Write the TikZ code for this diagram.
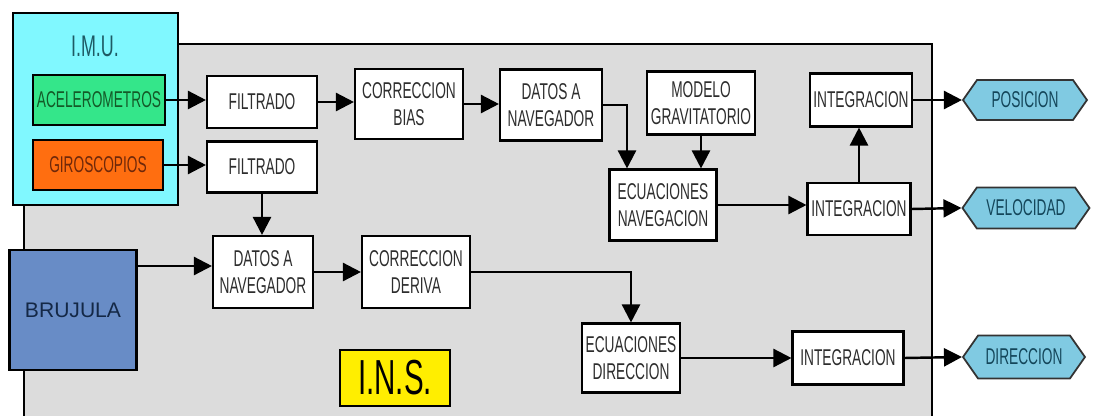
\documentclass[tikz,border=0pt]{standalone}
\usepackage{fontspec}
\usetikzlibrary{arrows.meta,positioning,calc,shapes.symbols}
\newfontfamily\agency[FakeStretch=0.6]{Liberation Sans}
\newfontfamily\widesans{Liberation Sans}
\definecolor{insgray}{RGB}{220,220,220}
\definecolor{imucyan}{RGB}{128,248,255}
\definecolor{acelgreen}{RGB}{52,230,138}
\definecolor{giroorange}{RGB}{255,110,16}
\definecolor{brublue}{RGB}{104,140,198}
\definecolor{insyellow}{RGB}{255,238,0}
\definecolor{outblue}{RGB}{128,202,226}
\definecolor{txtgray}{RGB}{45,45,45}

\begin{document}
\begin{tikzpicture}[x=0.02cm, y=-0.02cm,
  arr/.style={-{Triangle[length=0.36cm,width=0.36cm]}, line width=1.4pt},
  blk/.style={draw=black, line width=1.2pt, fill=white, align=center,
              font=\agency\fontsize{13}{15}\selectfont, text=txtgray, inner sep=2pt},
  src/.style={draw=black, line width=1.2pt, align=center,
              font=\agency\fontsize{13}{15}\selectfont, inner sep=2pt},
  outhex/.style={draw=black!80, line width=1pt, fill=outblue, shape=signal,
              signal to=west and east, signal pointer angle=110,
              font=\agency\fontsize{13}{15}\selectfont, text={rgb,255:red,20;green,70;blue,90},
              inner sep=2pt}]
\useasboundingbox (0,0) rectangle (1093,416);
% I.N.S. block
\fill[insgray] (24,44) rectangle (932,416);
\draw[line width=1.2pt] (24,416) -- (24,44) -- (932,44) -- (932,416);
% I.M.U.
\node[src, fill=imucyan, minimum width=3.3cm, minimum height=3.84cm] (imu) at (95.5,109) {};
\node[font=\agency\fontsize{17}{18}\selectfont, text={rgb,255:red,30;green,90;blue,100}] (imutitle) at (95,46) {I.M.U.};
\node[src, fill=acelgreen, text={rgb,255:red,20;green,90;blue,40}, minimum width=2.56cm, minimum height=1cm] (acel) at (99,100) {ACELEROMETROS};
\node[src, fill=giroorange, text={rgb,255:red,110;green,40;blue,10}, minimum width=2.6cm, minimum height=1cm] (giro) at (98,165) {GIROSCOPIOS};
% upper chain
\node[blk, minimum width=2.2cm, minimum height=1.04cm] (fil1) at (262,102) {FILTRADO};
\node[blk, minimum width=2.2cm, minimum height=1.02cm] (fil2) at (262,167) {FILTRADO};
\node[blk, minimum width=2.16cm, minimum height=1.4cm] (cbias) at (409,104) {CORRECCION\\BIAS};
\node[blk, minimum width=2.04cm, minimum height=1.42cm] (dnav1) at (551,105) {DATOS A\\NAVEGADOR};
\node[blk, minimum width=2.14cm, minimum height=1.26cm] (grav) at (701,103) {MODELO\\GRAVITATORIO};
\node[blk, minimum width=2.14cm, minimum height=1.42cm] (ecnav) at (663,205) {ECUACIONES\\NAVEGACION};
\node[blk, minimum width=2.04cm, minimum height=1.06cm] (int1) at (861,100) {INTEGRACION};
\node[blk, minimum width=2.06cm, minimum height=1.04cm] (int2) at (859,209) {INTEGRACION};
% lower chain
\node[src, fill=brublue, text={rgb,255:red,20;green,40;blue,70}, font=\widesans\fontsize{12}{14}\selectfont,
      minimum width=2.54cm, minimum height=2.4cm] (bru) at (73,310) {BRUJULA};
\node[blk, minimum width=2cm, minimum height=1.44cm] (dnav2) at (263,272) {DATOS A\\NAVEGADOR};
\node[blk, minimum width=2.16cm, minimum height=1.44cm] (cder) at (416,272) {CORRECCION\\DERIVA};
\node[blk, minimum width=1.68cm, minimum height=1.38cm] (ecdir) at (631,358) {ECUACIONES\\DIRECCION};
\node[blk, minimum width=2.22cm, minimum height=1.06cm] (int3) at (848,358) {INTEGRACION};
\node[src, fill=insyellow, font=\agency\fontsize{28}{30}\selectfont, minimum width=2.2cm, minimum height=1.12cm] (ins) at (395,378) {I.N.S.};
% outputs
\node[outhex, minimum width=2.48cm, minimum height=0.8cm] (pos) at (1025,100) {POSICION};
\node[outhex, minimum width=2.54cm, minimum height=0.82cm] (vel) at (1026,208) {VELOCIDAD};
\node[outhex, minimum width=2.44cm, minimum height=0.86cm] (dir) at (1024,357) {DIRECCION};
% connectors
\draw[arr] (acel.east) -- (acel.east -| fil1.west);
\draw[arr] (fil1.east) -- (fil1.east -| cbias.west);
\draw[arr] (cbias.east) -- (cbias.east -| dnav1.west);
\draw[arr] (dnav1.east) -| ([xshift=-0.72cm]ecnav.north);
\draw[arr] (grav.south) -- (grav.south |- ecnav.north);
\draw[arr] (ecnav.east) -- (ecnav.east -| int2.west);
\draw[arr] (int2.north) -- (int2.north |- int1.south);
\draw[arr] (int1.east) -- (pos.west);
\draw[arr] (int2.east) -- (vel.west);
\draw[arr] (giro.east) -- (giro.east -| fil2.west);
\draw[arr] (fil2.south) -- (fil2.south |- dnav2.north);
\draw[arr] ([yshift=0.12cm]dnav2.west -| bru.east) -- ([yshift=0.12cm]dnav2.west);
\draw[arr] (dnav2.east) -- (cder.west);
\draw[arr] (cder.east) -| (ecdir.north);
\draw[arr] (ecdir.east) -- (ecdir.east -| int3.west);
\draw[arr] (int3.east) -- (dir.west);
\end{tikzpicture}
\end{document}
